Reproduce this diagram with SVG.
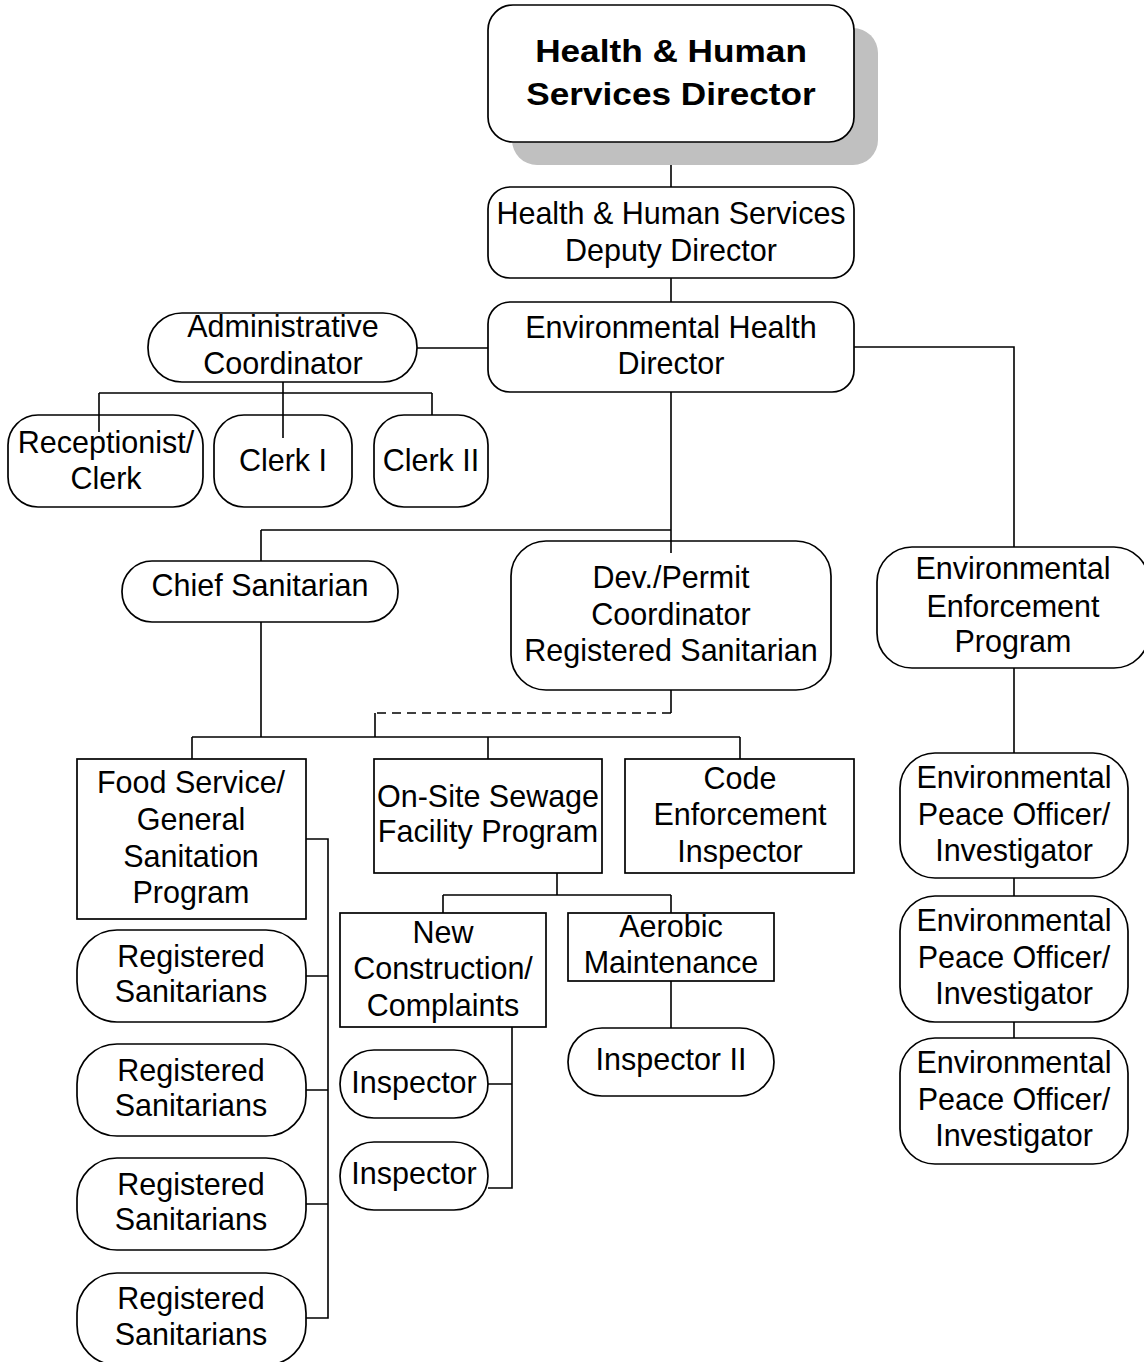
<svg xmlns="http://www.w3.org/2000/svg" width="1144" height="1362" viewBox="0 0 1144 1362">
<style>
.bx{fill:#fff;stroke:#000;stroke-width:1.7}
.t{font-family:"Liberation Sans",Arial,sans-serif;font-size:30.5px;text-anchor:middle;fill:#000}
.tb{font-family:"Liberation Sans",Arial,sans-serif;font-size:32px;font-weight:bold;text-anchor:middle;fill:#000}
.ln{fill:none;stroke:#000;stroke-width:1.6}
.dash{fill:none;stroke:#000;stroke-width:1.6;stroke-dasharray:9 6}
</style>
<rect width="1144" height="1362" fill="#fff"/>
<g id="connectors">
<path class="ln" d="M671 142V187M671 278V302M417 348H488M283 382V438M99 393H432M99 393V432M432 393V415M854 347H1014V547M671 392V553M261 530H671M261 530V561M261 622V737M192 737H740M192 737V759M488 737V759M740 737V759M671 690V713M375 713V737"/>
<path class="dash" d="M671 713H375"/>
<path class="ln" d="M306 839H328V1318H306M306 976H328M306 1090H328M306 1204H328M557 873V895M443 895H671M443 895V913M671 895V913M671 981V1028M512 1027V1188H488M488 1084H512M1014 668V753M1014 878V896M1014 1022V1038"/>
</g>
<g id="n-director">
<rect x="512" y="28" width="366" height="137" rx="25" fill="#c0c0c0"/>
<rect class="bx" x="488" y="5" width="366" height="137" rx="25"/>
<text class="tb" transform="translate(671 62) scale(1.1 1)">Health &amp; Human</text>
<text class="tb" transform="translate(671 105) scale(1.1 1)">Services Director</text>
</g>
<g id="n-deputy">
<rect class="bx" x="488" y="187" width="366" height="91" rx="22"/>
<text class="t" x="671" y="224">Health &amp; Human Services</text>
<text class="t" x="671" y="261">Deputy Director</text>
</g>
<g id="n-ehd">
<rect class="bx" x="488" y="302" width="366" height="90" rx="22"/>
<text class="t" x="671" y="338">Environmental Health</text>
<text class="t" x="671" y="374">Director</text>
</g>
<g id="n-admin">
<rect class="bx" x="148" y="313" width="269" height="69" rx="34"/>
<text class="t" x="283" y="337">Administrative</text>
<text class="t" x="283" y="374">Coordinator</text>
</g>
<g id="n-receptionist">
<rect class="bx" x="8" y="415" width="195" height="92" rx="30" fill-opacity="0"/>
<text class="t" x="106" y="453">Receptionist/</text>
<text class="t" x="106" y="489">Clerk</text>
</g>
<g id="n-clerk1">
<rect class="bx" x="214" y="415" width="138" height="92" rx="30" fill-opacity="0"/>
<text class="t" x="283" y="471">Clerk I</text>
</g>
<g id="n-clerk2">
<rect class="bx" x="374" y="415" width="114" height="92" rx="30"/>
<text class="t" x="431" y="471">Clerk II</text>
</g>
<g id="n-chief">
<rect class="bx" x="122" y="561" width="276" height="61" rx="30"/>
<text class="t" x="260" y="596">Chief Sanitarian</text>
</g>
<g id="n-devpermit">
<rect class="bx" x="511" y="541" width="320" height="149" rx="35" fill-opacity="0"/>
<text class="t" x="671" y="588">Dev./Permit</text>
<text class="t" x="671" y="625">Coordinator</text>
<text class="t" x="671" y="661">Registered Sanitarian</text>
</g>
<g id="n-enforcement">
<rect class="bx" x="877" y="547" width="272" height="121" rx="35"/>
<text class="t" x="1013" y="579">Environmental</text>
<text class="t" x="1013" y="617">Enforcement</text>
<text class="t" x="1013" y="652">Program</text>
</g>
<g id="n-food">
<rect class="bx" x="77" y="759" width="229" height="160"/>
<text class="t" x="191" y="793">Food Service/</text>
<text class="t" x="191" y="830">General</text>
<text class="t" x="191" y="867">Sanitation</text>
<text class="t" x="191" y="903">Program</text>
</g>
<g id="n-onsite">
<rect class="bx" x="374" y="759" width="228" height="114"/>
<text class="t" x="488" y="807">On-Site Sewage</text>
<text class="t" x="488" y="842">Facility Program</text>
</g>
<g id="n-code">
<rect class="bx" x="625" y="759" width="229" height="114"/>
<text class="t" x="740" y="789">Code</text>
<text class="t" x="740" y="825">Enforcement</text>
<text class="t" x="740" y="862">Inspector</text>
</g>
<g id="n-newconstruction">
<rect class="bx" x="340" y="913" width="206" height="114"/>
<text class="t" x="443" y="943">New</text>
<text class="t" x="443" y="979">Construction/</text>
<text class="t" x="443" y="1016">Complaints</text>
</g>
<g id="n-aerobic">
<rect class="bx" x="568" y="913" width="206" height="68"/>
<text class="t" x="671" y="937">Aerobic</text>
<text class="t" x="671" y="973">Maintenance</text>
</g>
<g id="n-inspector2">
<rect class="bx" x="568" y="1028" width="206" height="68" rx="34"/>
<text class="t" x="671" y="1070">Inspector II</text>
</g>
<g id="n-inspector-a">
<rect class="bx" x="340" y="1050" width="148" height="68" rx="34"/>
<text class="t" x="414" y="1093">Inspector</text>
</g>
<g id="n-inspector-b">
<rect class="bx" x="340" y="1142" width="148" height="68" rx="34"/>
<text class="t" x="414" y="1184">Inspector</text>
</g>
<g id="n-rs1">
<rect class="bx" x="77" y="930" width="229" height="92" rx="40"/>
<text class="t" x="191" y="967">Registered</text>
<text class="t" x="191" y="1002">Sanitarians</text>
</g>
<g id="n-rs2">
<rect class="bx" x="77" y="1044" width="229" height="92" rx="40"/>
<text class="t" x="191" y="1081">Registered</text>
<text class="t" x="191" y="1116">Sanitarians</text>
</g>
<g id="n-rs3">
<rect class="bx" x="77" y="1158" width="229" height="92" rx="40"/>
<text class="t" x="191" y="1195">Registered</text>
<text class="t" x="191" y="1230">Sanitarians</text>
</g>
<g id="n-rs4">
<rect class="bx" x="77" y="1273" width="229" height="92" rx="40"/>
<text class="t" x="191" y="1309">Registered</text>
<text class="t" x="191" y="1345">Sanitarians</text>
</g>
<g id="n-epo1">
<rect class="bx" x="900" y="753" width="228" height="125" rx="35"/>
<text class="t" x="1014" y="788">Environmental</text>
<text class="t" x="1014" y="825">Peace Officer/</text>
<text class="t" x="1014" y="861">Investigator</text>
</g>
<g id="n-epo2">
<rect class="bx" x="900" y="896" width="228" height="126" rx="35"/>
<text class="t" x="1014" y="931">Environmental</text>
<text class="t" x="1014" y="968">Peace Officer/</text>
<text class="t" x="1014" y="1004">Investigator</text>
</g>
<g id="n-epo3">
<rect class="bx" x="900" y="1038" width="228" height="126" rx="35"/>
<text class="t" x="1014" y="1073">Environmental</text>
<text class="t" x="1014" y="1110">Peace Officer/</text>
<text class="t" x="1014" y="1146">Investigator</text>
</g>
</svg>
